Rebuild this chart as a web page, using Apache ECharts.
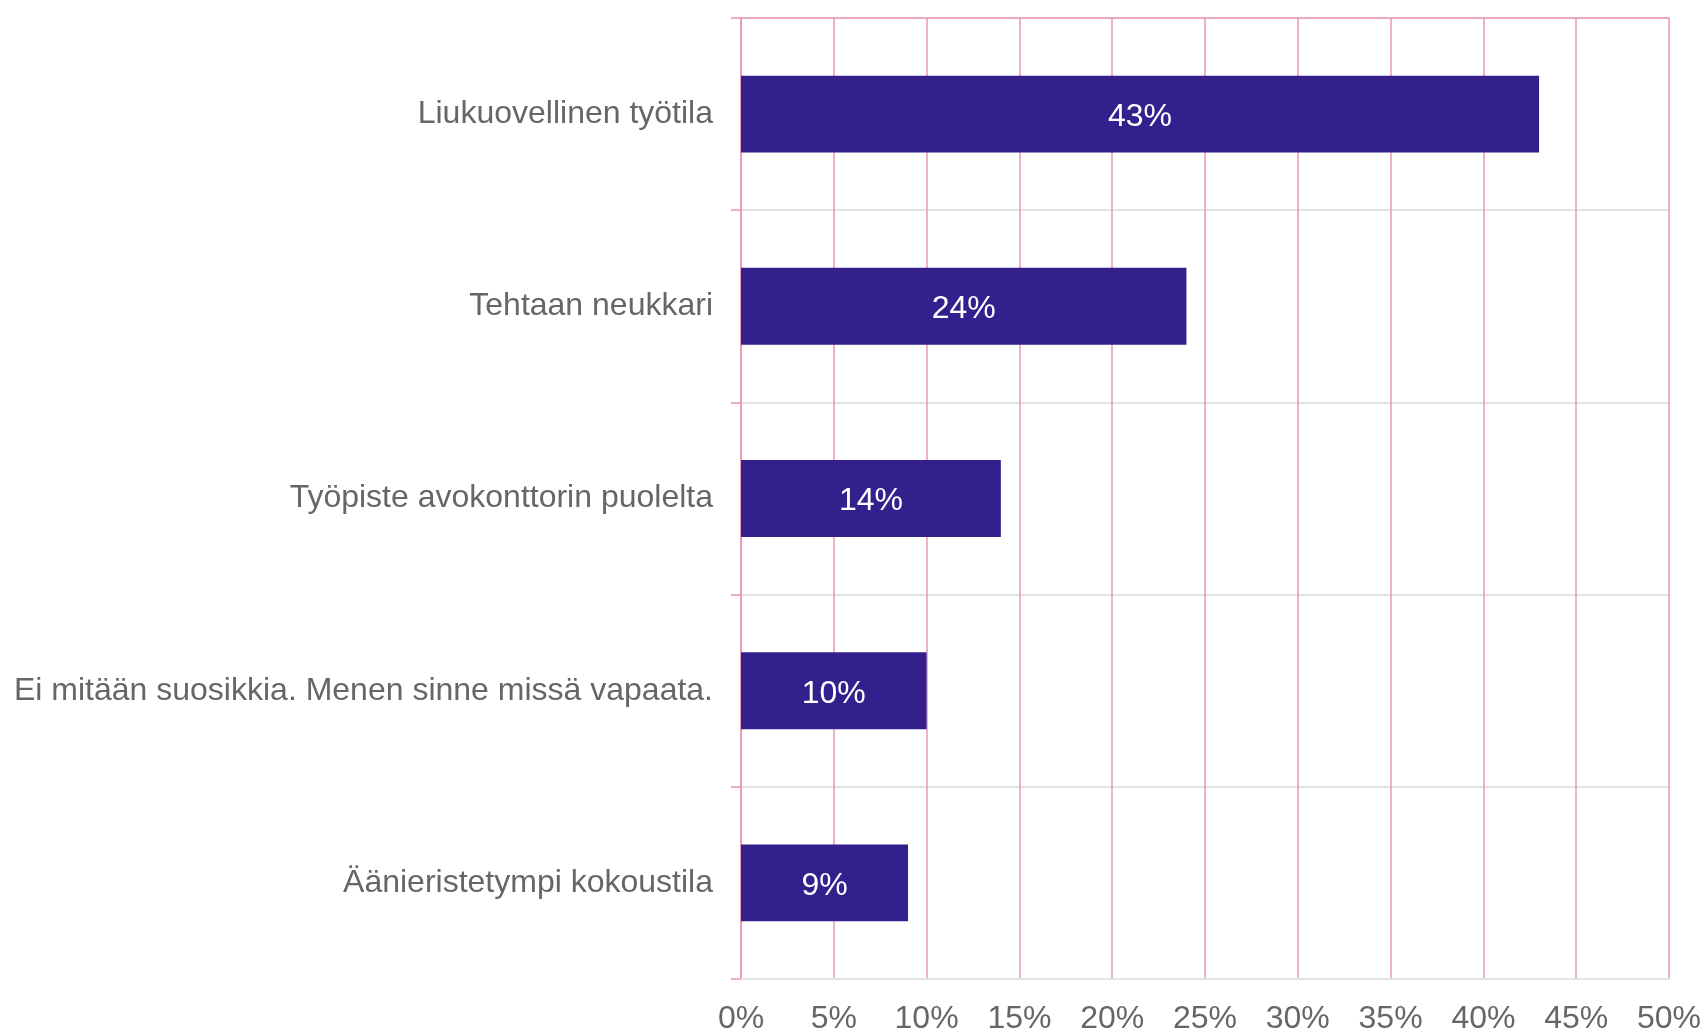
<!DOCTYPE html>
<html>
<head>
<meta charset="utf-8">
<script src="https://cdn.jsdelivr.net/npm/echarts@6/dist/echarts.min.js"></script>
<style>
  html, body { margin: 0; padding: 0; background: #fff; }
  #chart { width: 1706px; height: 1035px; }
</style>
</head>
<body>
<div id="chart"></div>
<script>
// vastausvaihtoehdot ja osuudet (%)
const categories = [
  'Liukuovellinen työtila',
  'Tehtaan neukkari',
  'Työpiste avokonttorin puolelta',
  'Ei mitään suosikkia. Menen sinne missä vapaata.',
  'Äänieristetympi kokoustila'
]
const shares = [43, 24, 14, 10, 9]
const xTicks = [0, 5, 10, 15, 20, 25, 30, 35, 40, 45, 50]

const pink = '#EC94B6'
const grey = '#E2E2E2'
const textColor = '#666666'
const font = 'Liberation Sans, Arial, sans-serif'

const chart = echarts.init(document.getElementById('chart'))

chart.setOption({
  animation: false,
  grid: {
    left: 741,
    right: 37,
    top: 18,
    bottom: 52
  },
  xAxis: [
    {
      type: 'value',
      position: 'bottom',
      min: xTicks[0],
      max: xTicks[xTicks.length - 1],
      interval: 5,
      axisLine: { show: true, lineStyle: { color: grey, width: 2 } },
      axisTick: { show: false },
      axisLabel: {
        color: textColor,
        fontSize: 32,
        fontFamily: font,
        margin: 24,
        formatter: v => v + '%'
      },
      splitLine: { show: true, lineStyle: { color: pink, width: 1.5 } }
    },
    {
      type: 'value',
      position: 'top',
      min: xTicks[0],
      max: xTicks[xTicks.length - 1],
      axisLine: { show: true, lineStyle: { color: pink, width: 1.5 } },
      axisTick: { show: false },
      axisLabel: { show: false },
      splitLine: { show: false }
    }
  ],
  yAxis: {
    type: 'category',
    inverse: true,
    data: categories,
    axisLine: { show: true, lineStyle: { color: pink, width: 1.5 } },
    axisTick: { show: true, length: 10, lineStyle: { color: pink, width: 1.5 } },
    axisLabel: {
      color: textColor,
      fontSize: 32,
      fontFamily: font,
      margin: 28,
      padding: [9, 0, 0, 0]
    },
    splitLine: { show: true, lineStyle: { color: grey, width: 2 } }
  },
  series: [
    {
      type: 'bar',
      data: shares,
      barWidth: '40%',
      itemStyle: { color: '#33208D' },
      label: {
        show: true,
        position: 'inside',
        offset: [0, 3],
        color: '#fff',
        fontSize: 32,
        fontFamily: font,
        formatter: p => p.value + '%'
      }
    }
  ]
})
</script>
</body>
</html>
